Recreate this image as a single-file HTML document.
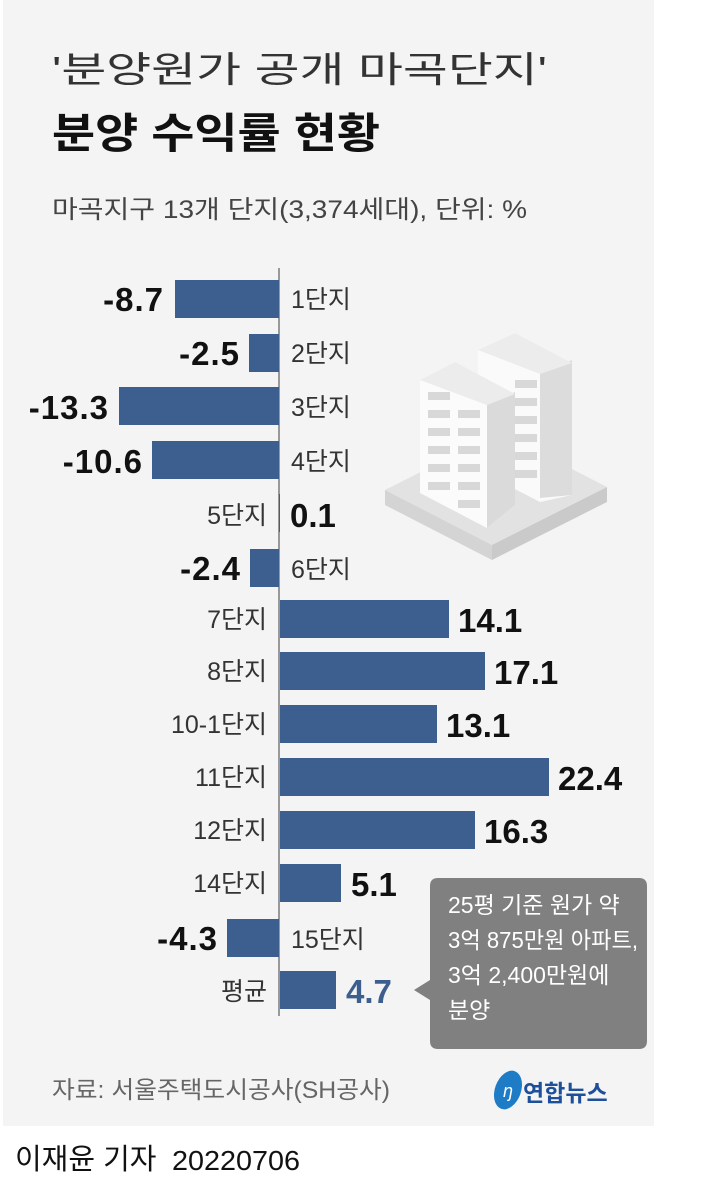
<!DOCTYPE html><html><head><meta charset="utf-8"><style>
body{margin:0;background:#fff;width:707px;height:1185px;overflow:hidden}
text{font-family:"Liberation Sans","Noto Sans CJK KR",sans-serif}
</style></head><body>
<svg width="707" height="1185" viewBox="0 0 707 1185" xmlns="http://www.w3.org/2000/svg">
<rect x="3" y="0" width="651" height="1126" fill="#f4f4f4"/>
<text x="52" y="82" font-size="36" fill="#333" textLength="495" lengthAdjust="spacingAndGlyphs">'분양원가 공개 마곡단지'</text>
<text x="52" y="148" font-size="42" font-weight="bold" fill="#111" textLength="328" lengthAdjust="spacingAndGlyphs">분양 수익률 현황</text>
<text x="52" y="218" font-size="25" fill="#444" textLength="475" lengthAdjust="spacingAndGlyphs">마곡지구 13개 단지(3,374세대), 단위: %</text>
<!-- building -->
<g>
<polygon points="385,490 500,432 607,487 492,545" fill="#e2e2e2"/>
<polygon points="385,490 492,545 492,560 385,505" fill="#d4d4d4"/>
<polygon points="492,545 607,487 607,502 492,560" fill="#cacaca"/>
<polygon points="478,350 515,333 572,363 572,495 540,502 478,470" fill="#fafafa"/>
<polygon points="540,374 572,360 572,495 540,498" fill="#dcdcdc"/>
<polygon points="420,380 455,362 515,394 515,505 487,528 420,493" fill="#fbfbfb"/>
<polygon points="487,405 515,392 515,505 487,528" fill="#dadada"/>
<polygon points="420,380 455,362 515,394 487,405" fill="#ececec"/>
<polygon points="478,350 515,333 572,363 540,374" fill="#ececec"/>
<g fill="#d8d8d8">
<rect x="428" y="392" width="22" height="8"/><rect x="458" y="410" width="22" height="8"/>
<rect x="428" y="410" width="22" height="8"/><rect x="458" y="428" width="22" height="8"/>
<rect x="428" y="428" width="22" height="8"/><rect x="458" y="446" width="22" height="8"/>
<rect x="428" y="446" width="22" height="8"/><rect x="458" y="464" width="22" height="8"/>
<rect x="428" y="464" width="22" height="8"/><rect x="458" y="482" width="22" height="8"/>
<rect x="428" y="482" width="22" height="8"/><rect x="458" y="500" width="22" height="8"/>
<rect x="515" y="380" width="22" height="8"/><rect x="515" y="398" width="22" height="8"/>
<rect x="515" y="416" width="22" height="8"/><rect x="515" y="434" width="22" height="8"/>
<rect x="515" y="452" width="22" height="8"/><rect x="515" y="470" width="22" height="8"/>
</g>
</g>
<line x1="279" y1="268" x2="279" y2="1016" stroke="#999" stroke-width="2"/>
<g fill="#3d5f8f">
<rect x="175" y="280" width="104" height="38"/>
<rect x="249" y="334" width="30" height="38"/>
<rect x="119" y="387" width="160" height="38"/>
<rect x="152" y="441" width="127" height="38"/>
<rect x="279" y="494" width="1" height="38"/>
<rect x="250" y="549" width="29" height="38"/>
<rect x="280" y="600" width="169" height="38"/>
<rect x="280" y="652" width="205" height="38"/>
<rect x="280" y="705" width="157" height="38"/>
<rect x="280" y="758" width="269" height="38"/>
<rect x="280" y="811" width="195" height="38"/>
<rect x="280" y="864" width="61" height="38"/>
<rect x="227" y="919" width="52" height="38"/>
<rect x="280" y="971" width="56" height="38"/>
</g>
<g font-size="25" fill="#333">
<text x="291" y="308">1단지</text>
<text x="291" y="362">2단지</text>
<text x="291" y="416">3단지</text>
<text x="291" y="470">4단지</text>
<text x="267" y="524" text-anchor="end">5단지</text>
<text x="291" y="578">6단지</text>
<text x="267" y="628" text-anchor="end">7단지</text>
<text x="267" y="680" text-anchor="end">8단지</text>
<text x="267" y="733" text-anchor="end">10-1단지</text>
<text x="267" y="786" text-anchor="end">11단지</text>
<text x="267" y="839" text-anchor="end">12단지</text>
<text x="267" y="892" text-anchor="end">14단지</text>
<text x="291" y="948">15단지</text>
<text x="267" y="1000" text-anchor="end">평균</text>
</g>
<g font-size="33" font-weight="bold" fill="#111">
<text x="164" y="311" text-anchor="end" letter-spacing="1">-8.7</text>
<text x="240" y="365" text-anchor="end" letter-spacing="1">-2.5</text>
<text x="109" y="419" text-anchor="end" letter-spacing="1">-13.3</text>
<text x="143" y="473" text-anchor="end" letter-spacing="1">-10.6</text>
<text x="290" y="527">0.1</text>
<text x="241" y="580" text-anchor="end" letter-spacing="1">-2.4</text>
<text x="458" y="632">14.1</text>
<text x="494" y="684">17.1</text>
<text x="446" y="737">13.1</text>
<text x="558" y="790">22.4</text>
<text x="484" y="843">16.3</text>
<text x="351" y="896">5.1</text>
<text x="218" y="950" text-anchor="end" letter-spacing="1">-4.3</text>
<text x="346" y="1003" fill="#3d5f8f">4.7</text>
</g>
<path d="M438,878 H639 Q647,878 647,886 V1041 Q647,1049 639,1049 H438 Q430,1049 430,1041 V1000 L414,990 L430,980 V886 Q430,878 438,878 Z" fill="#808080"/>
<g font-size="23" fill="#fff">
<text x="448" y="913">25평 기준 원가 약</text>
<text x="448" y="948" textLength="190" lengthAdjust="spacingAndGlyphs">3억 875만원 아파트,</text>
<text x="448" y="983">3억 2,400만원에</text>
<text x="448" y="1018">분양</text>
</g>
<text x="52" y="1098" font-size="24" fill="#666" textLength="338" lengthAdjust="spacingAndGlyphs">자료: 서울주택도시공사(SH공사)</text>
<ellipse cx="508" cy="1090" rx="13" ry="20" fill="#1e7bc6" transform="rotate(20 508 1090)"/>
<text x="508" y="1097" font-size="18" fill="#fff" font-style="italic" text-anchor="middle">ŋ</text>
<text x="523" y="1101" font-size="23" font-weight="bold" fill="#1d4f9a">연합뉴스</text>
<text x="15" y="1169" font-size="29" fill="#111">이재윤 기자</text>
<text x="172" y="1170" font-size="28" fill="#111" textLength="128" lengthAdjust="spacingAndGlyphs">20220706</text>
</svg>
</body></html>
